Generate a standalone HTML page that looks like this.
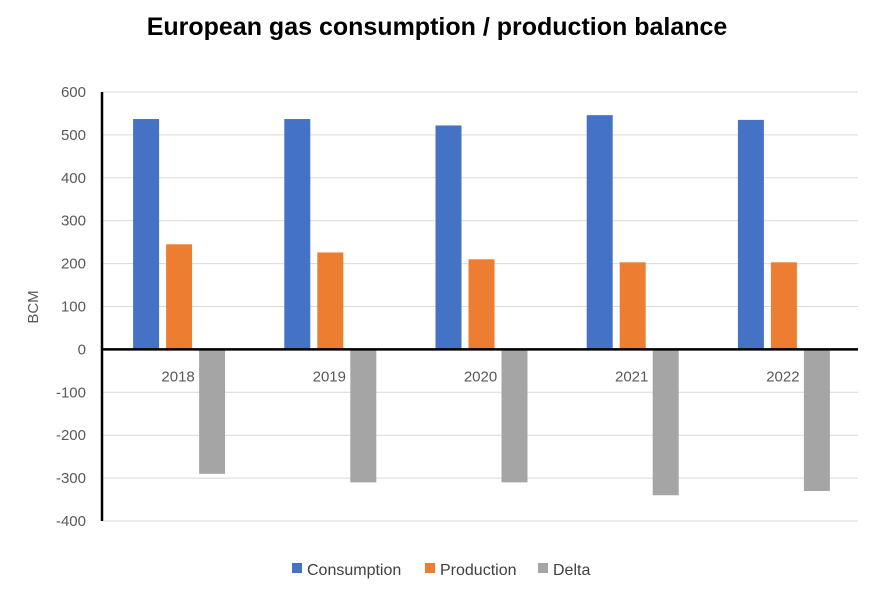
<!DOCTYPE html>
<html><head><meta charset="utf-8"><style>
body{margin:0;background:#fff;font-family:"Liberation Sans Narrow","Liberation Sans",sans-serif}
</style></head><body>
<svg id="chart" width="875" height="592" xmlns="http://www.w3.org/2000/svg" font-family="Liberation Sans Narrow, Liberation Sans, sans-serif">
<rect width="875" height="592" fill="#fff"/>
<text x="437" y="35" text-anchor="middle" font-size="25" font-weight="bold" font-family="Liberation Sans Narrow, Liberation Sans, sans-serif" fill="#000">European gas consumption / production balance</text>
<text transform="translate(38,307) rotate(-90)" text-anchor="middle" font-size="15" fill="#595959">BCM</text>
<g id="grid"></g><g id="bars"></g><g id="axes"></g>
<g>
<rect x="292" y="563" width="10" height="10" fill="#4472C4"/><text x="307" y="575" font-size="16" fill="#404040">Consumption</text>
<rect x="425" y="563" width="10" height="10" fill="#ED7D31"/><text x="440" y="575" font-size="16" fill="#404040">Production</text>
<rect x="538" y="563" width="10" height="10" fill="#A5A5A5"/><text x="553" y="575" font-size="16" fill="#404040">Delta</text>
</g>
</svg>
<script>
const categories=["2018","2019","2020","2021","2022"];
const consumption=[537,537,522,546,535];
const production=[245,226,210,203,203];
const delta=[-290,-310,-310,-340,-330];
const ticks=[600,500,400,300,200,100,0,-100,-200,-300,-400];
const NS="http://www.w3.org/2000/svg";
const x0=102,x1=858,yTop=92,yBot=521,vMax=600,vMin=-400;
const y=v=>yTop+(vMax-v)/(vMax-vMin)*(yBot-yTop);
const bw=(x1-x0)/categories.length;
const grid=document.getElementById('grid'),bars=document.getElementById('bars'),axes=document.getElementById('axes');
function mk(tag,attrs,parent){const e=document.createElementNS(NS,tag);for(const k in attrs)e.setAttribute(k,attrs[k]);parent.appendChild(e);return e;}
ticks.forEach(t=>{
 const l=mk('line',{x1:x0,x2:x1,y1:y(t),y2:y(t),stroke:'#d9d9d9','stroke-width':1},grid);
 
 
 const tx=mk('text',{x:86,y:y(t)+5,'text-anchor':'end','font-size':15,fill:'#595959'},axes);
 tx.textContent=t;
 
 
});
const series=[[consumption,'#4472C4','consumption'],[production,'#ED7D31','production'],[delta,'#A5A5A5','delta']];
const w=26,gap=7;
categories.forEach((c,i)=>{
 const cx=x0+bw*(i+0.5)+1.5;
 series.forEach((s,j)=>{
  const v=s[0][i];const bx=cx-(3*w+2*gap)/2+j*(w+gap);
  const r=mk('rect',{x:bx,y:Math.min(y(v),y(0)),width:w,height:Math.abs(y(v)-y(0)),fill:s[1]},bars);
  
  
 });
 const tx=mk('text',{x:cx-1,y:y(0)+32,'text-anchor':'middle','font-size':15,fill:'#595959'},axes);
 tx.textContent=c;
 
 
});
const ax=mk('line',{x1:x0,x2:x1,y1:y(0),y2:y(0),stroke:'#000','stroke-width':2.5},axes);


const ay=mk('line',{x1:x0,x2:x0,y1:yTop,y2:yBot,stroke:'#000','stroke-width':2.5},axes);


</script>
</body></html>
